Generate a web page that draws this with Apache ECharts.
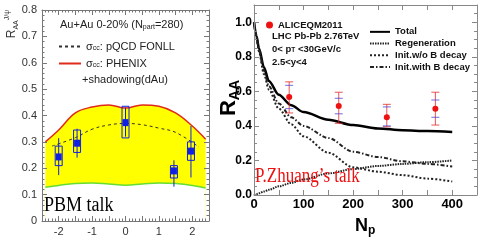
<!DOCTYPE html>
<html><head><meta charset="utf-8">
<script src="https://cdn.jsdelivr.net/npm/echarts@6/dist/echarts.min.js"></script>
<style>html,body{margin:0;padding:0;background:#fff}#c{width:491px;height:244px}</style>
</head><body><div id="c"></div>
<script>
// ---------- Left panel (PHENIX J/psi vs rapidity) ----------
const bandX    = [-2.4, -2.0, -1.5, -1.0, -0.5, 0.0, 0.5, 1.0, 1.5, 2.0, 2.4];
const bandLow  = [0.128, 0.135, 0.142, 0.144, 0.140, 0.136, 0.140, 0.144, 0.142, 0.135, 0.125];
const bandHigh = [0.300, 0.345, 0.410, 0.432, 0.440, 0.428, 0.440, 0.435, 0.410, 0.360, 0.310];
const fonllX   = [-2.2, -1.5, -1.0, -0.5, 0.0, 0.5, 1.0, 1.5, 2.2];
const fonllY   = [0.284, 0.316, 0.348, 0.364, 0.370, 0.365, 0.352, 0.336, 0.280];
const phX      = [-2.0, -1.45, 0.0, 1.45, 1.96];
const phY      = [0.243, 0.295, 0.373, 0.190, 0.265];
const phErrLo  = [0.174, 0.240, 0.320, 0.130, 0.165];
const phErrHi  = [0.314, 0.350, 0.430, 0.230, 0.360];
const phSysLo  = [0.210, 0.260, 0.315, 0.163, 0.230];
const phSysHi  = [0.284, 0.345, 0.435, 0.210, 0.300];
const leftXTicks = [-2, -1, 0, 1, 2];

// ---------- Right panel (LHC R_AA vs Np) ----------
const npX     = [0, 5, 10, 20, 30, 50, 75, 100, 150, 200, 250, 300, 350, 400];
const total   = [1.0, 0.92, 0.85, 0.74, 0.66, 0.58, 0.52, 0.48, 0.435, 0.405, 0.385, 0.375, 0.370, 0.365];
const regen   = [0.0, 0.005, 0.01, 0.02, 0.03, 0.05, 0.07, 0.09, 0.125, 0.150, 0.168, 0.180, 0.190, 0.200];
const initNoB = [1.0, 0.91, 0.83, 0.70, 0.61, 0.50, 0.41, 0.34, 0.245, 0.160, 0.135, 0.115, 0.095, 0.078];
const initB   = [1.0, 0.915, 0.84, 0.72, 0.63, 0.53, 0.45, 0.40, 0.33, 0.250, 0.220, 0.195, 0.180, 0.165];
const alX     = [71, 171, 268, 366];
const alY     = [0.567, 0.515, 0.450, 0.500];
const alErrLo = [0.475, 0.415, 0.395, 0.405];
const alErrHi = [0.655, 0.595, 0.525, 0.595];
const alSysLo = [0.500, 0.470, 0.400, 0.450];
const alSysHi = [0.635, 0.560, 0.510, 0.550];

const NARROW = '"Liberation Sans Narrow", "Liberation Sans", Arial, sans-serif';
const SANS = '"Liberation Sans", Arial, sans-serif';
const SERIF = '"Liberation Serif", "DejaVu Serif", serif';

const chart = echarts.init(document.getElementById('c'), null, {renderer: 'canvas'});

function axisCommon(color) {
  return {
    z: 10,
    splitLine: {show: false},
    axisLine: {show: true, onZero: false, lineStyle: {color: color, width: 1}},
    axisTick: {show: true, inside: true, length: 5, lineStyle: {color: color}},
  };
}

const leftColor = '#777';
const rightColor = '#888';

const xAxis = [
  Object.assign(axisCommon(leftColor), {
    gridIndex: 0, type: 'value', min: -2.5, max: 2.5, interval: 0.5, position: 'bottom',
    minorTick: {show: true, splitNumber: 5, length: 2.5, lineStyle: {color: leftColor}},
    axisLabel: {margin: 5, fontSize: 11, fontFamily: NARROW, color: '#333',
      formatter: v => leftXTicks.some(t => Math.abs(t - v) < 1e-9) ? String(Math.round(v)) : ''}
  }),
  Object.assign(axisCommon(leftColor), {
    gridIndex: 0, type: 'value', min: -2.5, max: 2.5, interval: 0.5, position: 'top',
    minorTick: {show: true, splitNumber: 5, length: 2.5, lineStyle: {color: leftColor}},
    axisLabel: {show: false}
  }),
  Object.assign(axisCommon(rightColor), {
    gridIndex: 1, type: 'value', min: 0, max: 450, interval: 50, position: 'bottom',
    axisLabel: {margin: 3, fontSize: 13, fontWeight: 'bold', fontFamily: SANS, color: '#000',
      formatter: v => (v % 100 === 0 && v <= 400) ? String(v) : ''}
  }),
  Object.assign(axisCommon(rightColor), {
    gridIndex: 1, type: 'value', min: 0, max: 450, interval: 50, position: 'top',
    axisLabel: {show: false}
  })
];

const yAxis = [
  Object.assign(axisCommon(leftColor), {
    gridIndex: 0, type: 'value', min: 0, max: 0.8, interval: 0.1, position: 'left',
    minorTick: {show: true, splitNumber: 5, length: 2.5, lineStyle: {color: leftColor}},
    axisLabel: {margin: 5, fontSize: 11, fontFamily: NARROW, color: '#333',
      formatter: v => v === 0 ? '0' : String(Math.round(v * 10) / 10)}
  }),
  Object.assign(axisCommon(leftColor), {
    gridIndex: 0, type: 'value', min: 0, max: 0.8, interval: 0.1, position: 'right',
    minorTick: {show: true, splitNumber: 5, length: 2.5, lineStyle: {color: leftColor}},
    axisLabel: {show: false}
  }),
  Object.assign(axisCommon(rightColor), {
    gridIndex: 1, type: 'value', min: 0, max: 1.1, interval: 0.2, position: 'left',
    minorTick: {show: true, splitNumber: 4, length: 3, lineStyle: {color: rightColor}},
    axisLabel: {margin: 2, fontSize: 12, fontWeight: 'bold', fontFamily: SANS, color: '#000',
      formatter: v => { const k = Math.round(v * 10); return (Math.abs(v * 10 - k) < 1e-6 && k % 2 === 0 && k <= 10) ? v.toFixed(1) : ''; }}
  }),
  Object.assign(axisCommon(rightColor), {
    gridIndex: 1, type: 'value', min: 0, max: 1.1, interval: 0.2, position: 'right',
    minorTick: {show: true, splitNumber: 4, length: 3, lineStyle: {color: rightColor}},
    axisLabel: {show: false}
  })
];

const pair = (xs, ys) => xs.map((x, i) => [x, ys[i]]);

const phData = phX.map((x, i) => [x, phY[i], phErrLo[i], phErrHi[i], phSysLo[i], phSysHi[i]]);
const alData = alX.map((x, i) => [x, alY[i], alErrLo[i], alErrHi[i], alSysLo[i], alSysHi[i]]);

const blue = '#1020e0';

const series = [
  {
    name: 'PHENIX', type: 'line', xAxisIndex: 0, yAxisIndex: 0, symbol: 'none', smooth: 0.4,
    data: pair(bandX, bandHigh),
    lineStyle: {color: '#e02a1a', width: 1.5}, areaStyle: {color: '#ffff00', opacity: 1, origin: 'start'}, z: 1, silent: true
  },
  {
    name: 'low', type: 'line', xAxisIndex: 0, yAxisIndex: 0, symbol: 'none', smooth: 0.4,
    data: pair(bandX, bandLow), lineStyle: {color: '#66dd33', width: 1.5},
    areaStyle: {color: '#ffffff', opacity: 1, origin: 'start'}, z: 2, silent: true
  },
  {
    name: 'FONLL', type: 'line', xAxisIndex: 0, yAxisIndex: 0, symbol: 'none', smooth: 0.4,
    data: pair(fonllX, fonllY), lineStyle: {color: '#333', width: 1, type: [3, 3]}, z: 3, silent: true
  },
  {
    name: 'phenixData', type: 'custom', xAxisIndex: 0, yAxisIndex: 0, z: 4,
    data: phData, encode: {x: 0, y: 1},
    renderItem: (params, api) => {
      const x = api.value(0);
      const p = api.coord([x, api.value(1)]);
      const e1 = api.coord([x, api.value(3)]);
      const e2 = api.coord([x, api.value(2)]);
      const s1 = api.coord([x, api.value(5)]);
      const s2 = api.coord([x, api.value(4)]);
      return {type: 'group', children: [
        {type: 'line', shape: {x1: p[0], y1: e1[1], x2: p[0], y2: e2[1]}, style: {stroke: blue, lineWidth: 1}},
        {type: 'rect', shape: {x: p[0] - 3.5, y: s1[1], width: 7, height: s2[1] - s1[1]}, style: {stroke: blue, fill: null, lineWidth: 1}},
        {type: 'rect', shape: {x: p[0] - 3, y: p[1] - 3.5, width: 6, height: 7}, style: {fill: blue}}
      ]};
    }
  },
  {
    name: 'Total', type: 'line', xAxisIndex: 2, yAxisIndex: 2, symbol: 'none', smooth: 0.3, smoothMonotone: 'x',
    data: pair(npX, total), lineStyle: {color: '#000', width: 2.5}, z: 3
  },
  {
    name: 'Regeneration', type: 'line', xAxisIndex: 2, yAxisIndex: 2, symbol: 'none', smooth: 0.3, smoothMonotone: 'x',
    data: pair(npX, regen), lineStyle: {color: '#222', width: 2, type: [1.5, 1]}, z: 3
  },
  {
    name: 'Init.w/o B decay', type: 'line', xAxisIndex: 2, yAxisIndex: 2, symbol: 'none', smooth: 0.3, smoothMonotone: 'x',
    data: pair(npX, initNoB), lineStyle: {color: '#222', width: 2, type: [2, 2]}, z: 3
  },
  {
    name: 'Init.with B decay', type: 'line', xAxisIndex: 2, yAxisIndex: 2, symbol: 'none', smooth: 0.3, smoothMonotone: 'x',
    data: pair(npX, initB), lineStyle: {color: '#222', width: 2, type: [4, 2, 1.5, 2]}, z: 3
  },
  {
    name: 'ALICEQM2011', type: 'custom', xAxisIndex: 2, yAxisIndex: 2, z: 5,
    itemStyle: {color: '#ee1111'},
    data: alData, encode: {x: 0, y: 1},
    renderItem: (params, api) => {
      const x = api.value(0);
      const p = api.coord([x, api.value(1)]);
      const e1 = api.coord([x, api.value(3)]);
      const e2 = api.coord([x, api.value(2)]);
      const s1 = api.coord([x, api.value(5)]);
      const s2 = api.coord([x, api.value(4)]);
      const red = 'rgba(230,40,40,0.8)';
      const bl = 'rgba(60,60,220,0.75)';
      return {type: 'group', children: [
        {type: 'line', shape: {x1: p[0], y1: e1[1], x2: p[0], y2: e2[1]}, style: {stroke: red, lineWidth: 1}},
        {type: 'line', shape: {x1: p[0] - 4, y1: e1[1], x2: p[0] + 4, y2: e1[1]}, style: {stroke: red, lineWidth: 1}},
        {type: 'line', shape: {x1: p[0] - 4, y1: e2[1], x2: p[0] + 4, y2: e2[1]}, style: {stroke: red, lineWidth: 1}},
        {type: 'line', shape: {x1: p[0] - 4, y1: s1[1], x2: p[0] + 4, y2: s1[1]}, style: {stroke: bl, lineWidth: 1}},
        {type: 'line', shape: {x1: p[0] - 4, y1: s2[1], x2: p[0] + 4, y2: s2[1]}, style: {stroke: bl, lineWidth: 1}},
        {type: 'circle', shape: {cx: p[0], cy: p[1], r: 3}, style: {fill: '#ee1111'}}
      ]};
    }
  }
];

const option = {
  animation: false,
  grid: [
    {left: 42, top: 10, width: 167, height: 211},
    {left: 254, top: 5, width: 223, height: 190}
  ],
  xAxis, yAxis, series,
  legend: [
    {
      data: ['FONLL', 'PHENIX'], orient: 'vertical', left: 53, top: 36, itemWidth: 22, itemHeight: 10, itemGap: 6,
      selectedMode: false, itemStyle: {opacity: 0}, z: 20,
      formatter: n => n === 'FONLL' ? '{a|σ}{s|cc}{a|: pQCD FONLL}' : '{a|σ}{s|cc}{a|: PHENIX}',
      textStyle: {rich: {
        a: {fontSize: 11, fontFamily: NARROW, color: '#222'},
        s: {fontSize: 7, fontFamily: NARROW, color: '#222', verticalAlign: 'bottom'}
      }}
    },
    {
      data: ['Total', 'Regeneration', 'Init.w/o B decay', 'Init.with B decay'], orient: 'vertical',
      left: 364, top: 21, itemWidth: 20, itemHeight: 8, itemGap: 0, selectedMode: false, itemStyle: {opacity: 0},
      textStyle: {fontSize: 9.5, fontWeight: 'bold', fontFamily: NARROW, color: '#111', lineHeight: 11.7}
    },
    {
      data: ['ALICEQM2011'], left: 261, top: 15, icon: 'circle', itemWidth: 7, itemHeight: 7, selectedMode: false,
      textStyle: {fontSize: 9.5, fontWeight: 'bold', fontFamily: NARROW, color: '#111'}
    }
  ],
  graphic: [
    {type: 'text', z: 100, x: 60, y: 25, style: {
      text: '{a|Au+Au 0-20% (N}{s|part}{a|=280)}', align: 'left', verticalAlign: 'middle',
      rich: {a: {fontSize: 11, fontFamily: NARROW, fill: '#222'}, s: {fontSize: 7, fontFamily: NARROW, fill: '#222', verticalAlign: 'bottom'}}
    }},
    {type: 'text', z: 100, x: 82, y: 80, style: {text: '+shadowing(dAu)', align: 'left', verticalAlign: 'middle', font: '11px ' + NARROW, fill: '#222'}},
    {type: 'text', z: 100, x: 44, y: 206, scaleX: 0.9, style: {text: 'PBM talk', align: 'left', verticalAlign: 'middle', font: '20px ' + SERIF, fill: '#000'}},
    {type: 'text', z: 100, x: 12, y: 24, rotation: Math.PI / 2, style: {
      text: '{r|R}{s|AA}{p|J/ψ}', align: 'center', verticalAlign: 'middle',
      rich: {r: {fontSize: 12, fontFamily: NARROW, fill: '#333', lineHeight: 16},
             s: {fontSize: 7, fontFamily: NARROW, fill: '#333', verticalAlign: 'bottom'},
             p: {fontSize: 7, fontFamily: NARROW, fill: '#333', verticalAlign: 'top'}}
    }},
    {type: 'text', z: 100, x: 272, y: 36, style: {text: 'LHC Pb-Pb 2.76TeV', align: 'left', verticalAlign: 'middle', font: 'bold 9.5px ' + NARROW, fill: '#111'}},
    {type: 'text', z: 100, x: 272, y: 49, style: {
      text: '{a|0< p}{s|T}{a| <30GeV/c}', align: 'left', verticalAlign: 'middle',
      rich: {a: {fontSize: 9.5, fontWeight: 'bold', fontFamily: NARROW, fill: '#111'}, s: {fontSize: 6.5, fontWeight: 'bold', fontFamily: NARROW, fill: '#111', verticalAlign: 'bottom'}}
    }},
    {type: 'text', z: 100, x: 272, y: 62, style: {text: '2.5<y<4', align: 'left', verticalAlign: 'middle', font: 'bold 9.5px ' + NARROW, fill: '#111'}},
    {type: 'text', z: 100, x: 255, y: 177, scaleX: 0.85, style: {text: 'P.Zhuang’s talk', align: 'left', verticalAlign: 'middle', font: '20px ' + SERIF, fill: '#ee1111'}},
    {type: 'text', z: 100, x: 229, y: 98, rotation: Math.PI / 2, style: {
      text: '{r|R}{s|AA}', align: 'center', verticalAlign: 'middle',
      rich: {r: {fontSize: 22, fontWeight: 'bold', fontFamily: SANS, fill: '#000', lineHeight: 26},
             s: {fontSize: 14, fontWeight: 'bold', fontFamily: SANS, fill: '#000', verticalAlign: 'bottom'}}
    }},
    {type: 'text', z: 100, x: 355, y: 226, style: {
      text: '{n|N}{s|p}', align: 'left', verticalAlign: 'middle',
      rich: {n: {fontSize: 18, fontWeight: 'bold', fontFamily: SANS, fill: '#000', lineHeight: 22},
             s: {fontSize: 12, fontWeight: 'bold', fontFamily: SANS, fill: '#000', verticalAlign: 'bottom'}}
    }}
  ]
};
chart.setOption(option);
</script></body></html>
